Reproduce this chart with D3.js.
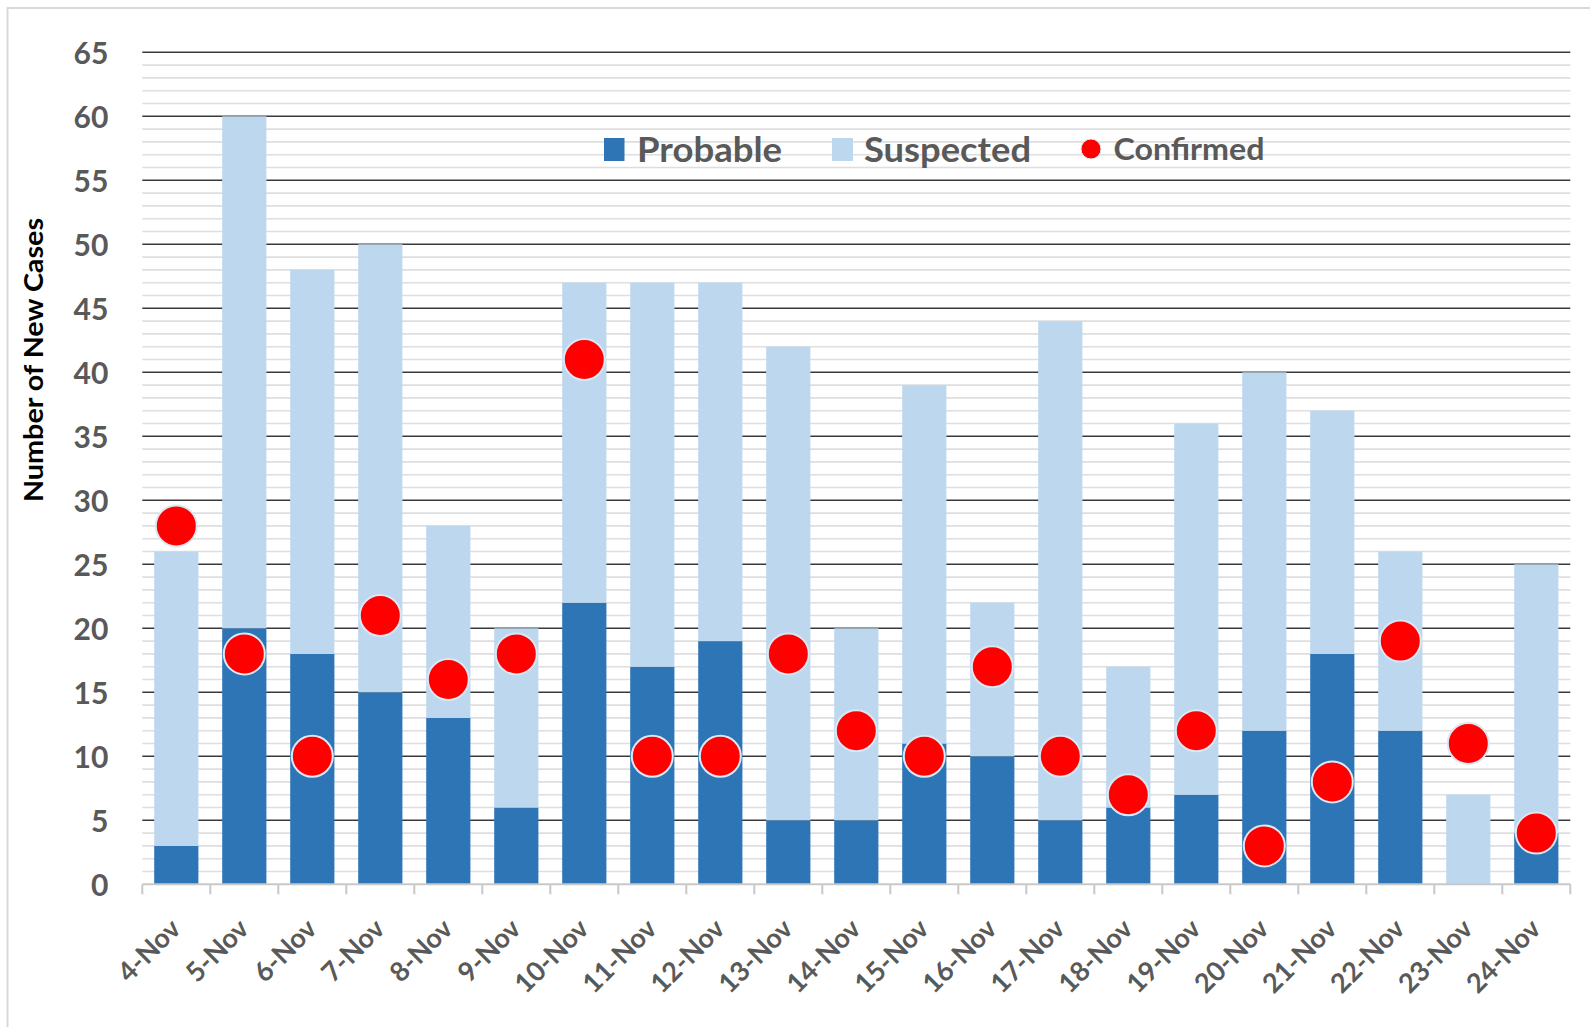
<!DOCTYPE html>
<html>
<head>
<meta charset="utf-8">
<script src="https://cdn.jsdelivr.net/npm/d3@7"></script>
<style>
  html, body { margin: 0; padding: 0; background: #fff; }
  svg { display: block; }
</style>
</head>
<body>
<svg id="chart" width="1590" height="1027"></svg>
<script>
const categories = ["4-Nov","5-Nov","6-Nov","7-Nov","8-Nov","9-Nov","10-Nov","11-Nov","12-Nov","13-Nov","14-Nov","15-Nov","16-Nov","17-Nov","18-Nov","19-Nov","20-Nov","21-Nov","22-Nov","23-Nov","24-Nov"];
const probable  = [3, 20, 18, 15, 13, 6, 22, 17, 19, 5, 5, 11, 10, 5, 6, 7, 12, 18, 12, 0, 4];
const suspected = [23, 40, 30, 35, 15, 14, 25, 30, 28, 37, 15, 28, 12, 39, 11, 29, 28, 19, 14, 7, 21];
const confirmed = [28, 18, 10, 21, 16, 18, 41, 10, 10, 18, 12, 10, 17, 10, 7, 12, 3, 8, 19, 11, 4];
const yTicks = [0, 5, 10, 15, 20, 25, 30, 35, 40, 45, 50, 55, 60, 65];
const yMinor = d3.range(0, 66, 1).filter(v => v % 5 !== 0);
const seriesNames = ["Probable", "Suspected", "Confirmed"];
const yTitle = "Number of New Cases";

const colProb = "#2e75b6", colSusp = "#bdd7ee", colConf = "#ff0000";
const FONT = "Lato, 'Open Sans', 'DejaVu Sans', sans-serif";

const svg = d3.select("#chart");
// outer frame
svg.append("rect").attr("x", 7.5).attr("y", 8).attr("width", 1640).attr("height", 1100)
  .attr("fill", "#fff").attr("stroke", "#d9d9d9").attr("stroke-width", 2);

const pLeft = 142.3, pRight = 1570.3, pTop = 52.3, pBottom = 884.3;
const x = d3.scaleBand().domain(categories).range([pLeft, pRight]).paddingInner(0.35).paddingOuter(0.175);
const y = d3.scaleLinear().domain([0, 65]).range([pBottom, pTop]);

// minor gridlines
svg.append("g").selectAll("line").data(yMinor).join("line")
  .attr("x1", pLeft).attr("x2", pRight)
  .attr("y1", d => y(d)).attr("y2", d => y(d))
  .attr("stroke", "#dedede").attr("stroke-width", 1.6);
// major gridlines
svg.append("g").selectAll("line").data(yTicks.filter(d => d > 0)).join("line")
  .attr("x1", pLeft).attr("x2", pRight)
  .attr("y1", d => y(d)).attr("y2", d => y(d))
  .attr("stroke", "#3a3a3a").attr("stroke-width", 1.5);

// stacked bars
const stackData = categories.map((c, i) => ({ cat: c, probable: probable[i], suspected: suspected[i] }));
const stack = d3.stack().keys(["probable", "suspected"])(stackData);
const colors = { probable: colProb, suspected: colSusp };
svg.append("g").selectAll("g").data(stack).join("g")
  .attr("fill", d => colors[d.key])
  .selectAll("rect").data(d => d).join("rect")
  .attr("x", d => x(d.data.cat))
  .attr("width", x.bandwidth())
  .attr("y", d => y(d[1]))
  .attr("height", d => y(d[0]) - y(d[1]));

// x axis line and boundary ticks
const step = x.step();
const boundaries = d3.range(categories.length + 1).map(i => pLeft + i * step);
svg.append("line").attr("x1", pLeft).attr("x2", pRight).attr("y1", pBottom).attr("y2", pBottom)
  .attr("stroke", "#c8c8c8").attr("stroke-width", 2);
svg.append("g").selectAll("line").data(boundaries).join("line")
  .attr("x1", d => d).attr("x2", d => d).attr("y1", pBottom).attr("y2", pBottom + 10)
  .attr("stroke", "#c8c8c8").attr("stroke-width", 2);

// x labels
const xAxis = svg.append("g").attr("transform", `translate(0,${pBottom})`)
  .call(d3.axisBottom(x).tickSize(0).tickPadding(0));
xAxis.select(".domain").remove();
xAxis.selectAll(".tick text")
  .attr("font-family", FONT).attr("font-weight", "bold").attr("font-size", 27)
  .attr("fill", "#595959")
  .attr("text-anchor", "end")
  .attr("y", 0)
  .attr("dy", 0)
  .attr("transform", "translate(6,46) rotate(-45)");

// y axis labels
const yAxis = svg.append("g").attr("transform", `translate(${pLeft},0)`)
  .call(d3.axisLeft(y).tickValues(yTicks).tickSize(0).tickPadding(34));
yAxis.select(".domain").remove();
yAxis.selectAll(".tick text")
  .attr("font-family", FONT).attr("font-weight", "bold").attr("font-size", 30)
  .attr("fill", "#595959").attr("dy", "0.36em");

// y title
svg.append("text")
  .attr("transform", "translate(43,360) rotate(-90)")
  .attr("text-anchor", "middle")
  .attr("font-family", FONT).attr("font-weight", "bold").attr("font-size", 27)
  .attr("fill", "#000")
  .attr("textLength", 284).attr("lengthAdjust", "spacingAndGlyphs")
  .text(yTitle);

// confirmed dots
svg.append("g").selectAll("circle").data(categories).join("circle")
  .attr("cx", d => x(d) + x.bandwidth() / 2)
  .attr("cy", (d, i) => y(confirmed[i]))
  .attr("r", 20.5)
  .attr("fill", colConf)
  .attr("stroke", "#dbe7f4").attr("stroke-width", 2);

// legend
const lg = svg.append("g").attr("font-family", FONT).attr("fill", "#595959");
lg.append("rect").attr("x", 604).attr("y", 138).attr("width", 20.5).attr("height", 23).attr("fill", colProb);
lg.append("text").attr("x", 637).attr("y", 161.5).attr("font-size", 34).attr("font-weight", "bold")
  .attr("textLength", 145).attr("lengthAdjust", "spacingAndGlyphs").text(seriesNames[0]);
lg.append("rect").attr("x", 832).attr("y", 138).attr("width", 21).attr("height", 23).attr("fill", colSusp);
lg.append("text").attr("x", 864).attr("y", 161.5).attr("font-size", 34).attr("font-weight", "bold")
  .attr("textLength", 167).attr("lengthAdjust", "spacingAndGlyphs").text(seriesNames[1]);
lg.append("circle").attr("cx", 1091).attr("cy", 149).attr("r", 10).attr("fill", colConf)
  .attr("stroke", "#dbe7f4").attr("stroke-width", 1);
lg.append("text").attr("x", 1113.5).attr("y", 160).attr("font-size", 30).attr("font-weight", "bold")
  .attr("textLength", 151).attr("lengthAdjust", "spacingAndGlyphs").text(seriesNames[2]);
</script>
</body>
</html>
